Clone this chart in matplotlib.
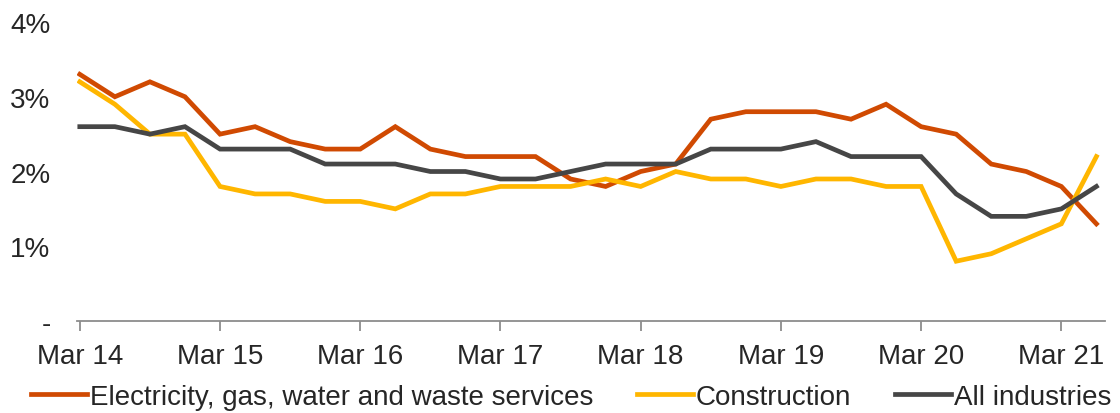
import numpy as np
import matplotlib
matplotlib.use("Agg")
import matplotlib.pyplot as plt

plt.rcParams["font.family"] = ["Liberation Sans", "DejaVu Sans"]

# quarterly, Mar 14 .. Jun 21
electricity = [3.3, 3.0, 3.2, 3.0, 2.5, 2.6, 2.4, 2.3, 2.3, 2.6,
               2.3, 2.2, 2.2, 2.2, 1.9, 1.8, 2.0, 2.1, 2.7, 2.8,
               2.8, 2.8, 2.7, 2.9, 2.6, 2.5, 2.1, 2.0, 1.8, 1.3]
construction = [3.2, 2.9, 2.5, 2.5, 1.8, 1.7, 1.7, 1.6, 1.6, 1.5,
                1.7, 1.7, 1.8, 1.8, 1.8, 1.9, 1.8, 2.0, 1.9, 1.9,
                1.8, 1.9, 1.9, 1.8, 1.8, 0.8, 0.9, 1.1, 1.3, 2.2]
all_industries = [2.6, 2.6, 2.5, 2.6, 2.3, 2.3, 2.3, 2.1, 2.1, 2.1,
                  2.0, 2.0, 1.9, 1.9, 2.0, 2.1, 2.1, 2.1, 2.3, 2.3,
                  2.3, 2.4, 2.2, 2.2, 2.2, 1.7, 1.4, 1.4, 1.5, 1.8]
tick_labels = ["Mar 14", "Mar 15", "Mar 16", "Mar 17",
               "Mar 18", "Mar 19", "Mar 20", "Mar 21"]
y_labels = ["-", "1%", "2%", "3%", "4%"]

series = [
    ("Electricity, gas, water and waste services", electricity, "#D04A02"),
    ("Construction", construction, "#FFB600"),
    ("All industries", all_industries, "#464646"),
]

fig = plt.figure(figsize=(11.2, 4.14), dpi=100)
ax = fig.add_axes([0.06875, 0.2222, 0.918, 0.7222])

x = np.arange(len(electricity))
for name, vals, color in series:
    ax.plot(x, vals, color=color, lw=3.4, label=name, solid_joinstyle="miter")

ax.set_xlim(-0.08, 29.25)
ax.set_ylim(0, 4)
ax.set_yticks(range(5))
ax.set_yticklabels(y_labels)
ax.set_xticks(np.arange(0, 29, 4))
ax.set_xticklabels(tick_labels)

for side in ["left", "right", "top"]:
    ax.spines[side].set_visible(False)
ax.spines["bottom"].set_color("#8c8c8c")
ax.spines["bottom"].set_linewidth(1.3)

ax.tick_params(axis="y", length=0, pad=19, labelsize=20, labelcolor="#262626")
ax.tick_params(axis="x", length=7, width=1.3, color="#8c8c8c", pad=9,
               labelsize=20, labelcolor="#262626")

fig.legend(loc="center", bbox_to_anchor=(0.51, 0.039), ncol=3, frameon=False,
           fontsize=20, handlelength=2.0, handletextpad=0.1,
           columnspacing=1.6, borderaxespad=0, labelcolor="#262626")

fig.savefig("out.png", dpi=100)
